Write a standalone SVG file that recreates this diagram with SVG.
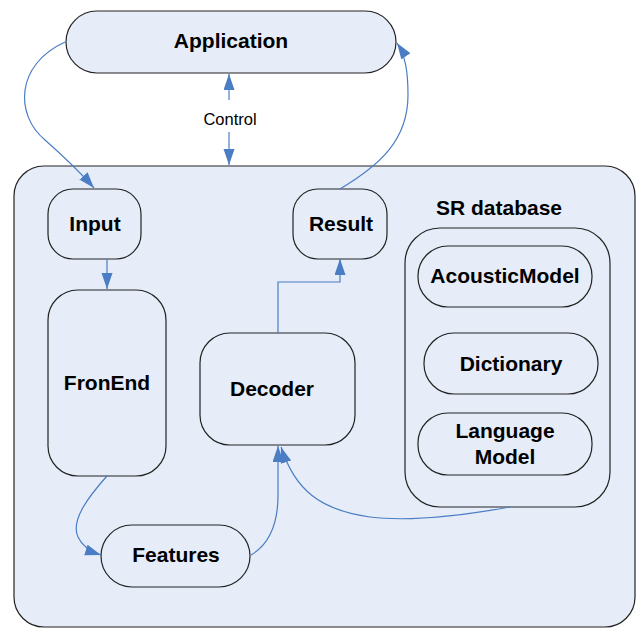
<svg xmlns="http://www.w3.org/2000/svg" width="637" height="628" viewBox="0 0 637 628">
<style>
.box{fill:#E6EDF8;stroke:#222;stroke-width:1.2}
.t{font-family:"Liberation Sans",Arial,sans-serif;font-weight:bold;font-size:21px;text-anchor:middle;fill:#000}
.c{fill:none;stroke:#4A7DC4;stroke-width:1.2}
</style>
<defs>
<marker id="ah" markerUnits="userSpaceOnUse" markerWidth="17" markerHeight="12" refX="16" refY="5.5" orient="auto">
<path d="M0,0 L16,5.5 L0,11 z" fill="#4A7DC4"/>
</marker>
</defs>
<rect width="637" height="628" fill="#fff"/>
<g id="system"><rect class="box" x="14" y="166" width="621" height="461" rx="30"/></g>
<g id="application"><rect class="box" x="66" y="11" width="330" height="62" rx="31"/><text class="t" x="231" y="48">Application</text></g>
<g id="input"><rect class="box" x="48" y="189" width="93" height="70" rx="25"/><text class="t" x="95" y="231">Input</text></g>
<g id="result"><rect class="box" x="293" y="189" width="94" height="70" rx="25"/><text class="t" x="341" y="231">Result</text></g>
<g id="sr-database"><text class="t" x="499" y="215">SR database</text><rect class="box" x="405" y="228" width="205" height="279" rx="35"/></g>
<g id="acoustic-model"><rect class="box" x="418" y="246" width="174" height="61" rx="30"/><text class="t" x="505" y="283">AcousticModel</text></g>
<g id="dictionary"><rect class="box" x="424" y="333" width="174" height="61" rx="30"/><text class="t" x="511" y="371">Dictionary</text></g>
<g id="language-model"><rect class="box" x="418" y="413" width="174" height="62" rx="30"/><text class="t" x="505" y="438">Language</text><text class="t" x="505" y="464">Model</text></g>
<g id="frontend"><rect class="box" x="48" y="290" width="118" height="186" rx="30"/><text class="t" x="107" y="390">FronEnd</text></g>
<g id="decoder"><rect class="box" x="200" y="333" width="155" height="112" rx="30"/><text class="t" x="272" y="396">Decoder</text></g>
<g id="features"><rect class="box" x="101" y="525" width="149" height="62" rx="31"/><text class="t" x="176" y="562">Features</text></g>
<g id="connectors">
<path class="c" d="M65,42 C15,65 15,115 45,140 C62,155 80,172 94,188" marker-end="url(#ah)"/>
<path class="c" d="M340,189 C380,165 408,140 408,95 C408,70 405,55 397,43" marker-end="url(#ah)"/>
<path class="c" d="M229,100 V74" marker-end="url(#ah)"/>
<path class="c" d="M229,132 V165" marker-end="url(#ah)"/>
<text x="230" y="125" style="font-family:'Liberation Sans',Arial,sans-serif;font-size:16.5px;text-anchor:middle">Control</text>
<path class="c" d="M107,259 V289" marker-end="url(#ah)"/>
<path class="c" d="M278,333 V282 H340 V259" marker-end="url(#ah)"/>
<path class="c" d="M107,476 C90,495 70,520 78,537 C82,546 92,552 101,555" marker-end="url(#ah)"/>
<path class="c" d="M251,555 C268,545 278,525 278,495 L278,446" marker-end="url(#ah)"/>
<path class="c" d="M510,507 C460,516 410,522 370,517 C320,510 295,490 281,447" marker-end="url(#ah)"/>
</g>
</svg>
